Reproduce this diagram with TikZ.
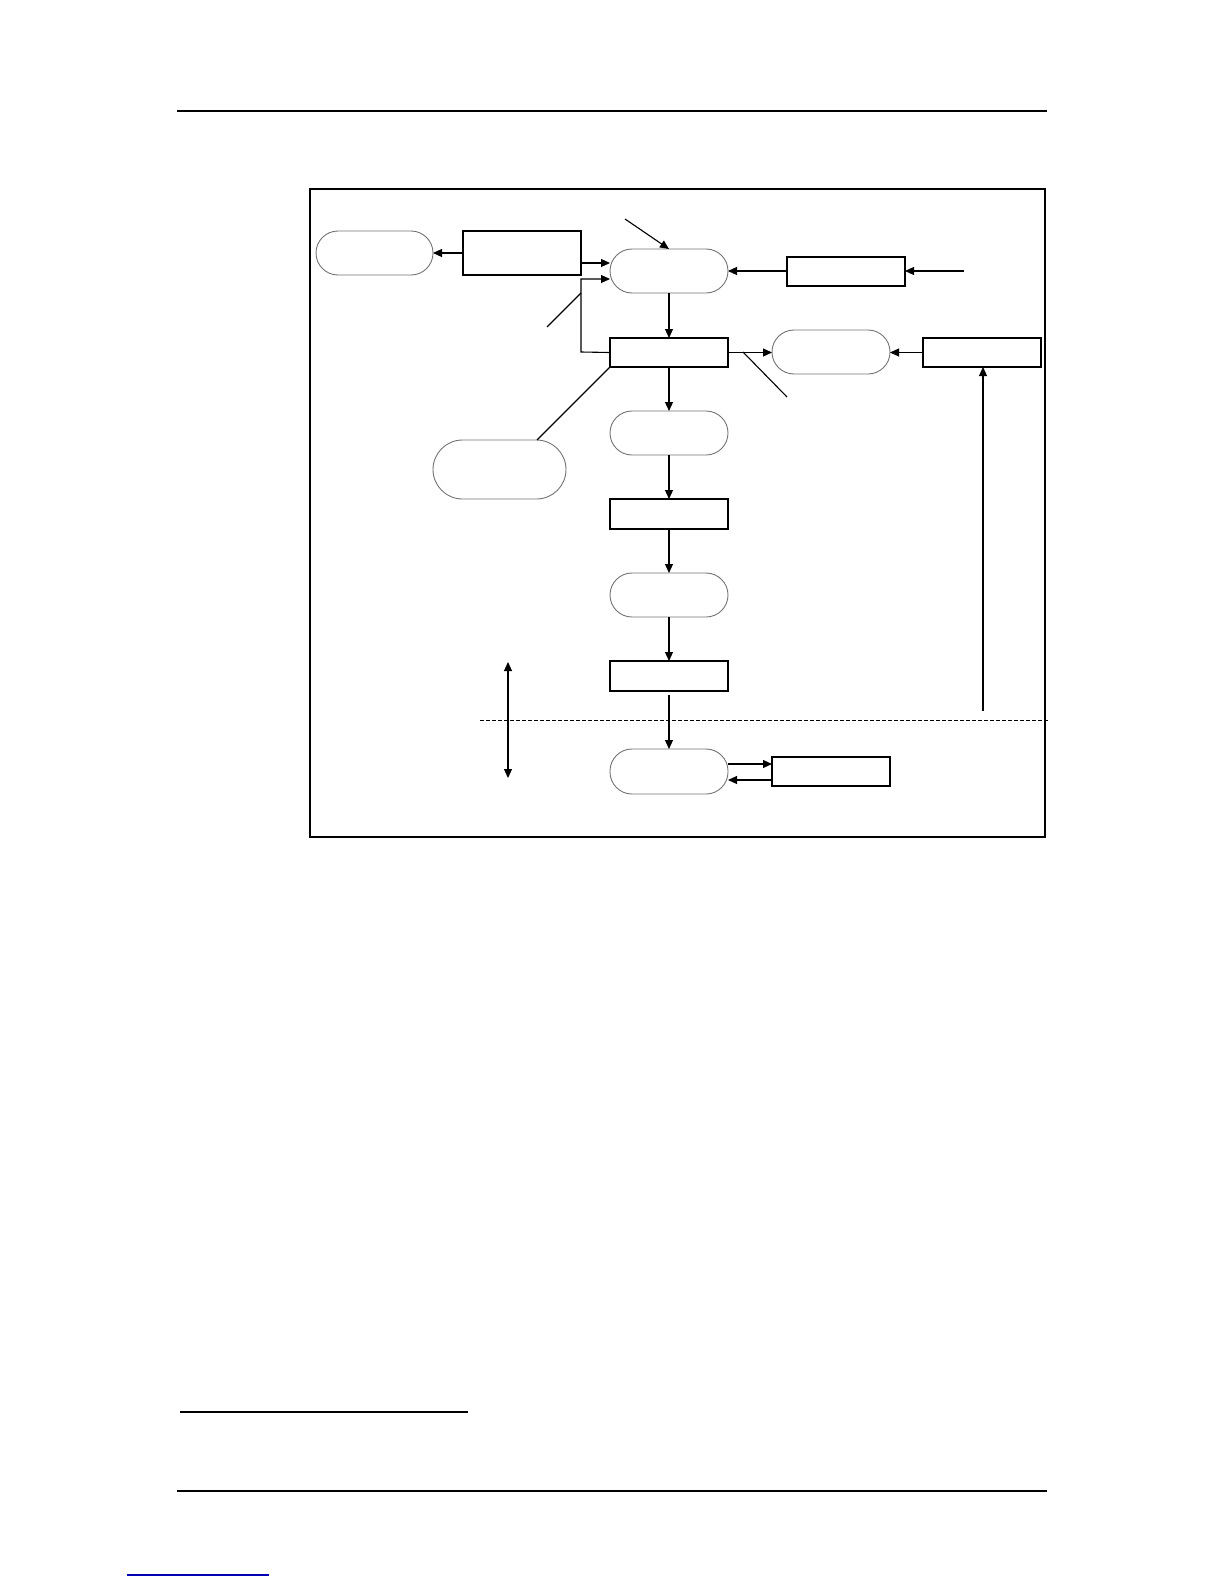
\documentclass[tikz,border=0pt]{standalone}
\usetikzlibrary{arrows.meta}
\begin{document}
\begin{tikzpicture}[x=1pt,y=-1pt,
  boxnode/.style={draw=black,line width=1.1pt,rectangle,inner sep=0pt,outer sep=0pt,minimum width=118pt,minimum height=29pt},
  roundnode/.style={draw=black!55,line width=0.9pt,rectangle,rounded corners=22pt,inner sep=0pt,outer sep=0pt,minimum width=118pt,minimum height=44pt},
  arr/.style={line width=1.1pt,-{Triangle[length=9pt,width=8pt]}},
  plain/.style={line width=1.1pt}]
\useasboundingbox (0,0) rectangle (1224,1584);
% page rules
\draw[line width=1.3pt] (177,111) -- (1047,111);
\draw[line width=1.3pt] (180,1412) -- (468,1412);
\draw[line width=2.6pt] (177,1491) -- (1047,1491);
\draw[line width=1.3pt,blue!70!black] (127,1575) -- (269,1575);
% frame
\draw[line width=2.4pt] (310,189) rectangle (1045,837);
% nodes
\node[roundnode,minimum width=117pt] (L1) at (374.5,253) {};
\node[boxnode,minimum height=44pt] (A) at (522,253) {};
\node[roundnode] (N1) at (669,271) {};
\node[boxnode] (D) at (846,271.5) {};
\node[boxnode] (B) at (669,352.5) {};
\node[roundnode] (N4) at (831,352) {};
\node[boxnode] (E) at (982,352.5) {};
\node[roundnode] (N2) at (669,433) {};
\node[roundnode,minimum width=133pt,minimum height=59pt,rounded corners=29.5pt] (N3) at (499.5,469.5) {};
\node[boxnode,minimum height=30pt] (C) at (669,514) {};
\node[roundnode] (N5) at (669,595) {};
\node[boxnode,minimum height=30pt] (F) at (669,676) {};
\node[roundnode,minimum height=45pt] (N7) at (669,771.5) {};
\node[boxnode] (G) at (831,771.5) {};
% free ends
\coordinate (tin) at (625,219);
\coordinate (din) at (964,271);
\coordinate (elow) at (983,711);
\coordinate (lead1a) at (547,327);
\coordinate (lead1b) at (581,293);
\coordinate (lead2a) at (743,352);
\coordinate (lead2b) at (787,397);
\coordinate (bend1) at (581,352);
\coordinate (bend2) at (581,279);
\coordinate (dblt) at (508,662);
\coordinate (dblb) at (508,778);
\coordinate (dashl) at (480,720);
\coordinate (dashr) at (1048,720);
% connectors
\draw[arr] (A.west) -- (L1.east);
\draw[arr] (A.east |- 0,263) -- (N1.west |- 0,263);
\draw[arr] (D.west |- 0,271) -- (N1.east |- 0,271);
\draw[arr] (din) -- (D.east |- din);
\draw[arr] (tin) -- (N1.north);
\draw[arr] (N1.south) -- (B.north);
\draw[arr] (B.west) -- (bend1) -- (bend2) -- (N1.west |- bend2);
\draw[plain] (lead1a) -- (lead1b);
\draw[arr] (B.east) -- (N4.west |- B.east);
\draw[plain] (lead2a) -- (lead2b);
\draw[arr] (E.west) -- (N4.east |- E.west);
\draw[arr] (elow) -- (elow |- E.south);
\draw[arr] (B.south) -- (N2.north);
\draw[plain] (B.south west) -- (537,440);
\draw[arr] (N2.south) -- (C.north);
\draw[arr] (C.south) -- (N5.north);
\draw[arr] (N5.south) -- (F.north);
\draw[arr] ([yshift=-4pt]F.south) -- (N7.north);
\draw[arr] (N7.east |- 0,764) -- (G.west |- 0,764);
\draw[arr] (G.west |- 0,780) -- (N7.east |- 0,780);
\draw[line width=1.1pt,{Triangle[length=9pt,width=8pt]}-{Triangle[length=9pt,width=8pt]}] (dblt) -- (dblb);
\draw[line width=1pt,dash pattern=on 4pt off 2pt] (dashl) -- (dashr);
\end{tikzpicture}
\end{document}
